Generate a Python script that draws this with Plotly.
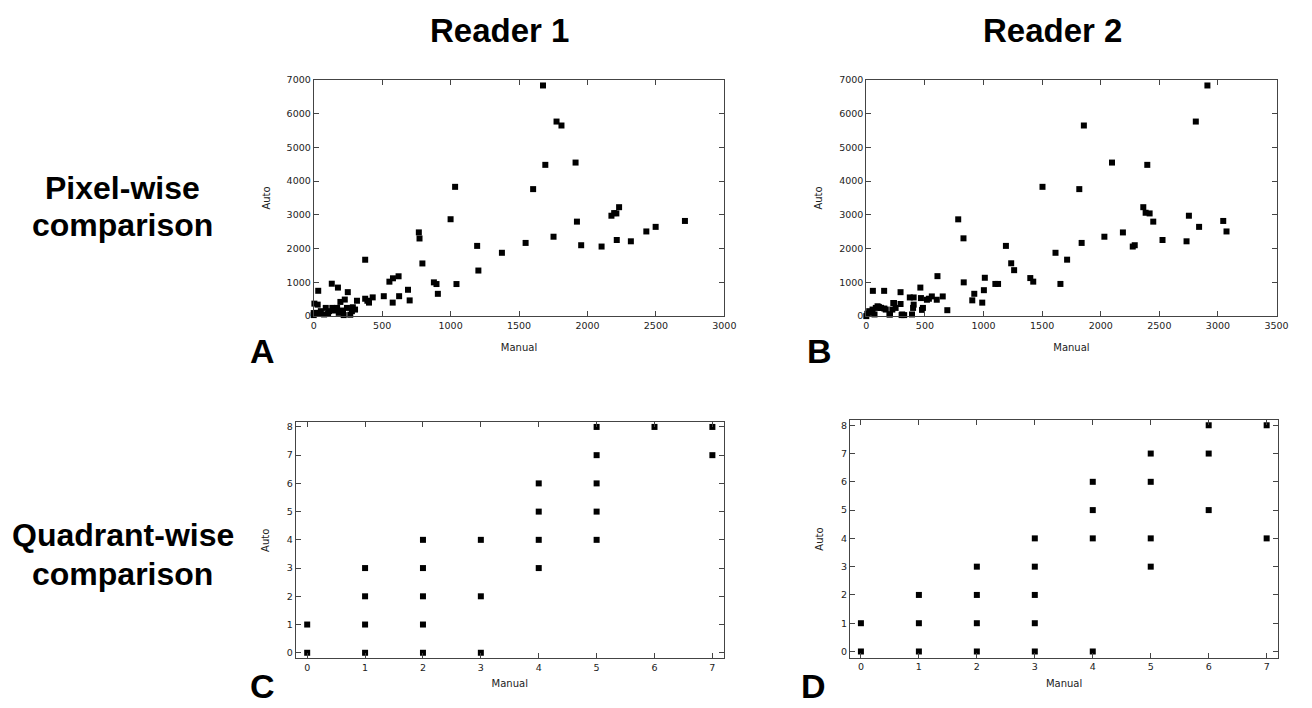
import plotly.graph_objects as go

W, H = 1312, 708

# ---------------- Data ----------------
# Panel A: Reader 1, pixel-wise (Manual, Auto)
a_manual = [0, 0, 5, 17, 29, 33, 40, 52, 76, 88, 105, 112, 132, 136, 148, 171, 177, 183,
            195, 214, 219, 227, 243, 249, 267, 279, 286, 302, 316,
            376, 376, 392, 404, 431, 512, 553, 579, 620, 577, 624, 689, 701, 768, 773,
            794, 878, 897, 907, 1000, 1033, 1043, 1194, 1203,
            1375, 1548, 1603, 1675, 1692, 1752, 1774, 1810, 1913, 1923, 1954, 2103,
            2175, 2195, 2211, 2231, 2214, 2317, 2430, 2498, 2712]
a_auto = [30, 90, 370, 97, 340, 750, 68, 146, 49, 243, 68, 146, 960, 243, 165, 243, 845, 97,
          420, 165, 30, 490, 243, 710, 40, 146, 262, 194, 455,
          1670, 515, 455, 400, 555, 590, 1020, 1120, 1180, 400, 590, 780, 465, 2480, 2300,
          1560, 1000, 950, 660, 2870, 3830, 950, 2080, 1350,
          1876, 2168, 3762, 6833, 4481, 2352, 5764, 5647, 4549, 2799, 2100, 2061,
          2974, 3052, 3042, 3227, 2255, 2216, 2508, 2644, 2819]

# Panel B: Reader 2, pixel-wise (Manual, Auto)
b_manual = [0, 8, 25, 28, 53, 56, 70, 81, 96, 107, 124, 126, 152, 154, 166, 197, 202, 222,
            230, 236, 250, 292, 292, 301, 306, 323, 371, 390, 399, 404, 404, 461, 466,
            475, 483, 517, 534, 559, 601, 607, 652, 691,
            784, 829, 831, 904, 921, 989, 1003, 1011, 1101, 1124, 1191, 1236, 1261,
            1399, 1424, 1503, 1614, 1656, 1713, 1817, 1837, 1856, 2031, 2096, 2189,
            2273, 2290, 2363, 2383, 2397, 2417, 2448, 2527, 2732, 2752, 2811, 2839,
            2910, 3045, 3073]
b_auto = [0, 68, 146, 97, 194, 748, 49, 243, 291, 272, 243, 243, 748, 224, 194, 49, 49, 194,
          389, 388, 243, 709, 359, 30, 49, 30, 553, 49, 243, 553, 340, 845, 534,
          185, 243, 485, 515, 583, 485, 1184, 583, 175,
          2867, 2304, 1000, 467, 661, 399, 768, 1136, 953, 953, 2080, 1565, 1361,
          1127, 1021, 3830, 1876, 953, 1672, 3762, 2168, 5647, 2352, 4549, 2479,
          2061, 2100, 3227, 3062, 4481, 3042, 2799, 2255, 2216, 2974, 5764, 2644,
          6833, 2819, 2508]

# Panel C: Reader 1, quadrant-wise
c_manual = [0, 0, 1, 1, 1, 1, 2, 2, 2, 2, 2, 3, 3, 3, 4, 4, 4, 4, 5, 5, 5, 5, 5, 6, 7, 7]
c_auto = [0, 1, 0, 1, 2, 3, 0, 1, 2, 3, 4, 0, 2, 4, 3, 4, 5, 6, 4, 5, 6, 7, 8, 8, 7, 8]

# Panel D: Reader 2, quadrant-wise
d_manual = [0, 0, 1, 1, 1, 2, 2, 2, 2, 3, 3, 3, 3, 3, 4, 4, 4, 4, 5, 5, 5, 5, 6, 6, 6, 7, 7]
d_auto = [0, 1, 0, 1, 2, 0, 1, 2, 3, 0, 1, 2, 3, 4, 0, 4, 5, 6, 3, 4, 6, 7, 5, 7, 8, 4, 8]

col_titles = ["Reader 1", "Reader 2"]
row_title_lines = [["Pixel-wise", "comparison"], ["Quadrant-wise", "comparison"]]
panel_letters = ["A", "B", "C", "D"]


def fx(px):
    return px / W


def fy(py):
    return 1 - py / H


fig = go.Figure()

panels = [
    # (x data, y data, xdomain px, ydomain px (top, bottom), xrange, yrange, xdtick, ydtick)
    (a_manual, a_auto, (314.3, 729.7), (75, 315), [0, 3000], [0, 7000], 500, 1000),
    (b_manual, b_auto, (873.3, 1288.3), (75, 315), [0, 3500], [0, 7000], 500, 1000),
    (c_manual, c_auto, (296, 729.3), (422.7, 662.7), [-0.2, 7.2], [-0.2, 8.17], 1, 1),
    (d_manual, d_auto, (856.7, 1290), (421, 662), [-0.19, 7.2], [-0.22, 8.17], 1, 1),
]

tick_font = dict(family="DejaVu Sans", size=9.5, color="#222")
title_font = dict(family="DejaVu Sans", size=10, color="#222")

for i, (xs, ys, xd, yd, xr, yr, dxt, dyt) in enumerate(panels):
    n = "" if i == 0 else str(i + 1)
    fig.add_trace(go.Scatter(
        x=xs, y=ys, mode="markers",
        marker=dict(symbol="square", size=6, color="black", line=dict(width=0)),
        xaxis="x" + n, yaxis="y" + n, cliponaxis=False, showlegend=False,
        hoverinfo="x+y",
    ))
    ystand = 14 if i < 2 else 15
    xstand = 14 if i < 2 else 8
    fig.layout["xaxis" + n] = dict(
        domain=[fx(xd[0]), fx(xd[1])], range=xr, dtick=dxt, tick0=0,
        anchor="y" + n, showgrid=False, zeroline=False,
        showline=True, linecolor="#444", linewidth=1, mirror="allticks",
        ticks="inside", ticklen=5, tickcolor="#444", tickwidth=1,
        tickfont=tick_font,
        title=dict(text="Manual", font=title_font, standoff=xstand),
    )
    fig.layout["yaxis" + n] = dict(
        domain=[fy(yd[1]), fy(yd[0])], range=yr, dtick=dyt, tick0=0,
        anchor="x" + n, showgrid=False, zeroline=False,
        showline=True, linecolor="#444", linewidth=1, mirror="allticks",
        ticks="inside", ticklen=5, tickcolor="#444", tickwidth=1,
        tickfont=tick_font,
        title=dict(text="Auto", font=title_font, standoff=ystand),
    )

annotations = []
# column titles
for txt, cx in zip(col_titles, [502, 1062]):
    annotations.append(dict(
        text="<b>" + txt + "</b>", x=fx(cx), y=fy(25), xref="paper", yref="paper",
        showarrow=False, xanchor="center", yanchor="middle",
        font=dict(family="Liberation Sans Narrow, Arial Narrow, Liberation Sans", size=33, color="black"),
    ))
# row titles (one annotation per line)
for lines, ys in zip(row_title_lines, [(185, 222), (537, 577)]):
    for txt, cy in zip(lines, ys):
        annotations.append(dict(
            text="<b>" + txt + "</b>", x=fx(121), y=fy(cy), xref="paper", yref="paper",
            showarrow=False, xanchor="center", yanchor="middle", align="center",
            font=dict(family="Liberation Sans, Arial", size=32, color="black"),
        ))
# panel letters
for txt, (px, py) in zip(panel_letters, [(262, 350), (826, 350), (262, 691), (820, 691)]):
    annotations.append(dict(
        text="<b>" + txt + "</b>", x=fx(px), y=fy(py), xref="paper", yref="paper",
        showarrow=False, xanchor="center", yanchor="middle",
        font=dict(family="Liberation Sans, Arial", size=34, color="black"),
    ))

fig.update_layout(
    width=W, height=H,
    margin=dict(l=0, r=0, t=0, b=0),
    paper_bgcolor="white", plot_bgcolor="white",
    annotations=annotations,
    showlegend=False,
)

fig.write_html(
    "out.html",
    config={"displayModeBar": False},
    post_script="document.body.style.margin='0px';document.body.style.overflow='hidden';",
)
